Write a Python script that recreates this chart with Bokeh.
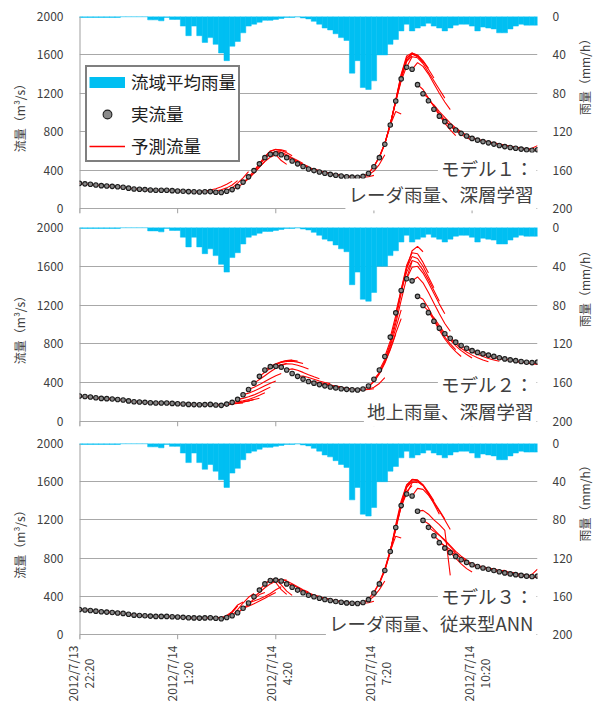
import numpy as np
import pandas as pd
from bokeh.plotting import figure
from bokeh.layouts import column
from bokeh.models import (Range1d, LinearAxis, FixedTicker, Label, Legend,
                          LegendItem, ColumnDataSource)
from bokeh.core.properties import value
from bokeh.embed import file_html
from bokeh.resources import INLINE

FONT = "Noto Sans CJK JP"
TEXT = "#404040"
RAIN_COLOR = "#00BFF2"
FORECAST_COLOR = "#FF0000"
GRID_COLOR = "#A8A8A8"
AXIS_COLOR = "#A0A0A0"

# 10-minute time steps, 2012/7/13 22:20 - 2012/7/14 12:20
time_index = pd.date_range("2012-07-13 22:20", "2012-07-14 12:20", freq="10min")
t_ms = (time_index.asi8 // 10**6).astype(float)
STEP = 600000.0

# observed discharge (m3/s)
observed_flow = [
    262, 257, 252, 245, 238, 235, 231, 226, 221, 212,
    203, 200, 197, 193, 190, 190, 190, 186, 183, 180,
    176, 174, 172, 174, 176, 170, 166, 179, 197, 228,
    275, 330, 395, 465, 530, 565, 570, 560, 530, 495,
    465, 437, 412, 395, 380, 367, 356, 346, 338, 331,
    327, 325, 335, 365, 435, 530, 670, 870, 1120, 1350,
    1472, 1450, 1290, 1195, 1122, 1034, 962, 905, 858, 818,
    783, 755, 730, 712, 697, 684, 671, 657, 645, 635,
    627, 619, 611, 607, 612,
]

# basin-average rainfall (mm/h)
rainfall = [
    1, 1, 1, 1, 1, 1, 1, 1, 0.3, 0.3,
    0.3, 0.3, 0.3, 3.5, 3.5, 4.5, 1, 3, 3, 10,
    20, 10, 20, 27, 22, 29, 38, 46, 31, 26,
    17, 10, 8, 6, 4, 4, 3, 2, 1, 1,
    0.5, 1.5, 2.5, 5, 8, 12, 14, 18, 22, 25,
    59, 46, 74, 76, 67, 40, 40, 29, 24, 15,
    8, 15, 12, 10, 7, 10, 12, 15, 12, 9,
    8, 8, 10, 15, 11, 12, 13, 17, 17, 13,
    10, 8, 9, 9, 9,
]

tick_times = ["2012-07-13 22:20", "2012-07-14 01:20", "2012-07-14 04:20",
              "2012-07-14 07:20", "2012-07-14 10:20"]
tick_dates = ["2012/7/13", "2012/7/14", "2012/7/14", "2012/7/14", "2012/7/14"]
tick_clock = ["22:20", "1:20", "4:20", "7:20", "10:20"]
flow_ticks = [0, 400, 800, 1200, 1600, 2000]
rain_ticks = [0, 40, 80, 120, 160, 200]

# forecast runs: (issue step, predicted discharge from that step onward)
forecast_model1 = [
    (0, [262, 256, 250, 244, 239, 234, 230]),
    (5, [235, 231, 226, 220, 213, 206, 201]),
    (10, [203, 200, 197, 194, 191, 189, 188]),
    (15, [190, 189, 188, 185, 182, 179, 176]),
    (19, [180, 177, 175, 173, 173, 175, 178]),
    (21, [174, 176, 182, 192, 206, 226, 252, 285]),
    (24, [176, 182, 195, 215, 245, 290]),
    (27, [179, 215, 265, 320, 385]),
    (28, [197, 222, 262, 310, 368, 430, 490]),
    (30, [275, 318, 372, 432, 490, 535, 560]),
    (31, [330, 388, 455, 520, 570, 595, 600]),
    (32, [395, 468, 540, 595, 615, 612, 595]),
    (33, [465, 540, 600, 618, 605, 580, 550]),
    (34, [530, 580, 560, 500, 460]),
    (35, [565, 590, 585, 560, 530, 500, 470]),
    (36, [570, 570, 550, 520, 490, 462, 438]),
    (38, [530, 505, 478, 452, 428, 410, 396]),
    (40, [465, 445, 424, 406, 390, 378, 368]),
    (42, [412, 398, 385, 373, 362, 353, 346]),
    (44, [380, 370, 360, 351, 343, 337, 332]),
    (46, [356, 348, 341, 335, 331, 328, 327]),
    (48, [338, 332, 328, 326, 326, 331, 345]),
    (50, [327, 325, 330, 350, 390, 460, 560]),
    (52, [335, 368, 440, 540, 680, 880, 1110]),
    (53, [365, 438, 540, 680, 880, 1120, 1340]),
    (54, [435, 535, 675, 875, 1110, 1330, 1480]),
    (55, [530, 672, 870, 1120, 1360, 1530, 1590]),
    (56, [670, 880, 1130, 1390, 1570, 1610, 1580]),
    (57, [870, 1010, 985]),
    (57, [870, 1130, 1400, 1590, 1620, 1590, 1520]),
    (58, [1120, 1370, 1560, 1620, 1600, 1540, 1460]),
    (59, [1350, 1540, 1610, 1590, 1530, 1450, 1360]),
    (60, [1472, 1580, 1570, 1510, 1420, 1330, 1240, 1150]),
    (61, [1450, 1520, 1480, 1400, 1300, 1200, 1110, 1030]),
    (62, [1290, 1240, 1150, 1060, 970, 890, 820, 760]),
    (63, [1195, 1150, 1070, 990, 920, 860, 810]),
    (64, [1122, 1080, 1010, 950, 890, 840, 800]),
    (66, [962, 915, 860, 810, 770, 738, 712]),
    (67, [905, 870, 830, 795, 765, 740, 720]),
    (69, [818, 790, 762, 740, 722, 706, 694]),
    (72, [730, 716, 704, 694, 684, 672, 660]),
    (75, [684, 676, 668, 656, 646, 636, 628]),
    (77, [657, 660, 648, 638, 630, 622, 615]),
    (79, [635, 630, 624, 616, 610, 606]),
    (80, [627, 620, 612, 628, 655]),
]

forecast_model2 = [
    (0, [262, 255, 249, 243, 238, 233, 229]),
    (5, [235, 231, 225, 218, 211, 205, 200]),
    (10, [203, 199, 196, 193, 190, 189, 187]),
    (15, [190, 188, 186, 183, 180, 177, 174]),
    (20, [176, 174, 172, 173, 174, 171, 168]),
    (24, [176, 172, 168, 172, 180, 186, 192]),
    (26, [166, 172, 180, 190, 200, 212, 226]),
    (27, [179, 183, 190, 200, 212, 226, 240]),
    (28, [197, 202, 212, 226, 246, 270, 296]),
    (29, [228, 238, 254, 274, 298, 326, 354]),
    (30, [275, 292, 314, 340, 368, 394, 418]),
    (31, [330, 352, 380, 412, 444, 472, 494]),
    (32, [395, 432, 472, 512, 548, 578, 600]),
    (33, [465, 508, 548, 584, 612, 628, 632]),
    (34, [530, 566, 596, 616, 628, 630, 622]),
    (35, [565, 590, 608, 618, 620, 612, 598]),
    (36, [570, 586, 594, 592, 580, 562, 542]),
    (38, [530, 542, 528, 506, 482, 460, 440]),
    (40, [465, 468, 454, 436, 418, 402, 390]),
    (42, [412, 410, 400, 388, 376, 366, 358]),
    (44, [380, 377, 369, 359, 350, 343, 338]),
    (46, [356, 351, 344, 338, 333, 330, 329]),
    (48, [338, 333, 329, 327, 327, 330, 338]),
    (50, [327, 325, 326, 333, 352, 392, 452]),
    (52, [335, 356, 410, 490, 600, 740, 900]),
    (53, [365, 415, 500, 620, 780, 960, 1150]),
    (54, [435, 505, 610, 750, 910, 1060]),
    (55, [530, 640, 800, 1010, 1250, 1480, 1650]),
    (56, [670, 830, 1050, 1320, 1580, 1760, 1805, 1750]),
    (57, [870, 1090, 1360, 1610, 1740, 1730, 1640, 1530]),
    (58, [1120, 1360, 1580, 1700, 1680, 1600, 1490, 1380]),
    (59, [1350, 1540, 1660, 1640, 1560, 1460, 1350, 1240]),
    (60, [1472, 1590, 1600, 1530, 1430, 1320, 1210, 1110]),
    (61, [1450, 1490, 1430, 1330, 1220, 1110, 1010, 930]),
    (62, [1290, 1260, 1170, 1060, 960, 870, 800, 740]),
    (63, [1195, 1140, 1040, 940, 850, 780, 720, 670]),
    (64, [1122, 1070, 990, 910, 840, 780, 730, 690, 655]),
    (66, [962, 910, 852, 800, 755, 716, 684, 656, 634, 616]),
    (68, [858, 820, 782, 748, 718, 692, 670, 650, 634, 620]),
    (71, [755, 735, 712, 692, 674, 660, 648, 636]),
    (74, [697, 684, 670, 656, 644, 632, 622, 612]),
    (77, [657, 645, 634, 622, 612, 603, 596, 590]),
    (80, [627, 616, 606, 598, 592]),
]

forecast_model3 = [
    (0, [262, 257, 250, 246, 238, 236, 230]),
    (5, [235, 230, 227, 220, 214, 204, 202]),
    (10, [203, 201, 196, 194, 189, 191, 188]),
    (15, [190, 190, 186, 184, 179, 177, 172]),
    (19, [180, 175, 174, 170, 176, 172, 178]),
    (22, [172, 178, 172, 180, 174, 170]),
    (25, [170, 175, 200, 240, 300]),
    (26, [166, 190, 240, 310, 340]),
    (27, [179, 230, 300]),
    (28, [197, 260, 330, 390, 430]),
    (29, [228, 270, 320, 372, 418, 440]),
    (30, [275, 296, 322, 350, 380, 412, 440]),
    (31, [330, 350, 372, 398, 430, 468, 500]),
    (32, [395, 440, 490, 530, 560, 572, 570]),
    (33, [465, 530, 575, 580, 560, 530]),
    (34, [530, 570, 545, 470, 420]),
    (35, [565, 575, 520, 455, 410]),
    (36, [570, 578, 560, 532, 500, 470, 445]),
    (38, [530, 520, 492, 462, 436, 414, 398]),
    (40, [465, 452, 430, 410, 394, 380, 370]),
    (42, [412, 402, 390, 376, 364, 354, 346]),
    (44, [380, 374, 362, 352, 344, 337, 333]),
    (46, [356, 348, 342, 336, 330, 328, 327]),
    (48, [338, 333, 328, 326, 327, 332, 348]),
    (50, [327, 326, 332, 356, 400, 470, 560]),
    (52, [335, 370, 445, 545, 690, 880, 1100]),
    (54, [435, 540, 680, 880, 1120, 1340, 1480]),
    (55, [530, 670, 860, 1100, 1340, 1500, 1560]),
    (56, [670, 870, 1120, 1360, 1540, 1600, 1590]),
    (57, [870, 1030, 1010]),
    (57, [870, 1150, 1400, 1570, 1620, 1610, 1560]),
    (58, [1120, 1380, 1560, 1625, 1620, 1570, 1490, 1400]),
    (59, [1350, 1540, 1620, 1615, 1560, 1470, 1370, 1260]),
    (60, [1472, 1590, 1600, 1560, 1480, 1390, 1300, 1210]),
    (61, [1450, 1530, 1520, 1460, 1380, 1290, 1200, 1100]),
    (62, [1290, 1300, 1260, 1200, 1150, 1090, 620]),
    (63, [1195, 1160, 1100, 1040, 980, 920, 860]),
    (64, [1122, 1080, 1040, 990, 930, 870, 820, 780]),
    (65, [1034, 980, 920, 860, 800, 740, 690, 655]),
    (66, [962, 930, 890, 850, 800, 760, 720]),
    (68, [858, 840, 800, 770, 740, 716, 700]),
    (70, [783, 758, 742, 716, 712, 690, 690]),
    (72, [730, 702, 712, 684, 692, 666, 672]),
    (74, [697, 676, 686, 660, 668, 646, 650]),
    (76, [671, 650, 664, 636, 644, 622, 628]),
    (78, [645, 624, 638, 612, 620, 598, 606]),
    (80, [627, 604, 616, 592, 604]),
    (81, [619, 600, 630, 685]),
]

panels = [
    ("モデル１：", "レーダ雨量、深層学習", forecast_model1),
    ("モデル２：", "地上雨量、深層学習", forecast_model2),
    ("モデル３：", "レーダ雨量、従来型ANN", forecast_model3),
]

tick_ms = [float(pd.Timestamp(t).value // 10**6) for t in tick_times]

FLOW_MAX = 2000
TICK_DEPTH = 52          # outward length of the time tick marks, in flow units
RAIN_MAX = 200
LEFT_PAD, RIGHT_PAD = 79, 63
PX_PER_STEP = (604 - LEFT_PAD - RIGHT_PAD) / (len(t_ms) - 1)


def unaligned(plot):
    # keep each figure's frame where its own borders put it
    if "frame_align" in plot.properties():
        plot.frame_align = False
    return plot


def build_panel(caption1, caption2, forecast, height, border_top, border_bottom,
                caption_y, show_legend):
    p = figure(width=604, height=height, x_axis_type="datetime",
               x_range=Range1d(t_ms[0], t_ms[-1]),
               y_range=Range1d(-TICK_DEPTH, FLOW_MAX),
               x_axis_location=None,
               output_backend="svg", toolbar_location=None,
               min_border_left=LEFT_PAD, min_border_right=RIGHT_PAD,
               min_border_top=border_top, min_border_bottom=border_bottom,
               outline_line_color=None)
    unaligned(p)
    # rainfall axis runs downward from the top; its 200 sits on the flow zero line
    p.extra_y_ranges = {"rain": Range1d(RAIN_MAX + TICK_DEPTH * RAIN_MAX / FLOW_MAX, 0)}

    # rainfall bars hanging from the top
    rain_src = ColumnDataSource(dict(left=t_ms - STEP / 2, right=t_ms + STEP / 2,
                                     top=[0] * len(rainfall), bottom=rainfall))
    p.quad(left="left", right="right", top="top", bottom="bottom", source=rain_src,
           y_range_name="rain", fill_color=RAIN_COLOR, line_color=RAIN_COLOR,
           line_width=0.5)

    # vertical axis line and the time tick marks below the zero line
    p.segment(x0=[t_ms[0]], y0=[-TICK_DEPTH], x1=[t_ms[0]], y1=[FLOW_MAX],
              line_color=AXIS_COLOR, line_width=2)
    p.segment(x0=tick_ms, y0=[0] * len(tick_ms), x1=tick_ms,
              y1=[-TICK_DEPTH] * len(tick_ms), line_color=AXIS_COLOR, line_width=1)

    xs, ys = [], []
    for start, vals in forecast:
        vals = vals[: len(t_ms) - start]
        xs.append(list(t_ms[start:start + len(vals)]))
        ys.append(vals)
    p.multi_line(xs=xs, ys=ys, line_color=FORECAST_COLOR, line_width=1.1)

    obs = p.scatter(x=t_ms, y=observed_flow, marker="circle", size=4.5,
                    line_color="#1E1E1E", line_width=1.1, fill_color="#8A8A8A")

    # grid
    p.xgrid.grid_line_color = None
    p.ygrid.ticker = FixedTicker(ticks=flow_ticks)
    p.ygrid.grid_line_color = GRID_COLOR

    # left (discharge) axis
    yax = p.yaxis[0]
    yax.ticker = FixedTicker(ticks=flow_ticks)
    yax.axis_label = "流量（m³/s）"
    yax.axis_line_color = None
    yax.major_label_standoff = 16
    yax.axis_label_standoff = 6

    # right (rainfall) axis, title reading bottom to top
    rax = LinearAxis(y_range_name="rain", ticker=FixedTicker(ticks=rain_ticks),
                     axis_label="雨量（mm/h）")
    rax.axis_line_color = None
    rax.major_label_standoff = 15
    rax.axis_label_standoff = 9
    if "axis_label_orientation" in rax.properties():
        rax.axis_label_orientation = np.pi / 2
    p.add_layout(rax, "right")

    for ax in (yax, rax):
        ax.major_tick_out = 0
        ax.major_tick_in = 0
        ax.minor_tick_out = 0
        ax.minor_tick_in = 0
        ax.major_label_text_font = FONT
        ax.major_label_text_font_size = "12px"
        ax.major_label_text_color = TEXT
        ax.axis_label_text_font = FONT
        ax.axis_label_text_font_size = "12px"
        ax.axis_label_text_font_style = "normal"
        ax.axis_label_text_color = TEXT

    # model caption in the lower right corner
    cap_x = t_ms[0] + 83.8 * STEP
    for txt, yv in zip((caption1, caption2), caption_y):
        p.add_layout(Label(x=cap_x, y=yv, text=txt, text_align="right",
                           text_baseline="middle", text_font=FONT,
                           text_font_size="18.5px", text_color=TEXT,
                           background_fill_color="white", padding=3))

    if show_legend:
        # legend keys: a thick cyan stroke for the rainfall bars, a red stroke
        # for the forecasts (both kept outside the visible range)
        off = dict(x=[t_ms[0], t_ms[1]], y=[-5000, -5000])
        rain_key = p.line(line_color=RAIN_COLOR, line_width=11, **off)
        fc_key = p.line(line_color=FORECAST_COLOR, line_width=1.5, **off)
        legend = Legend(items=[
            LegendItem(label="流域平均雨量", renderers=[rain_key]),
            LegendItem(label="実流量", renderers=[obs]),
            LegendItem(label="予測流量", renderers=[fc_key]),
        ], location=(6, 51))
        legend.label_text_font = FONT
        legend.label_text_font_size = "17.5px"
        legend.label_text_color = "#202020"
        legend.glyph_width = 36
        legend.glyph_height = 22
        legend.label_height = 22
        legend.label_standoff = 6
        legend.spacing = 7
        legend.padding = 2
        legend.margin = 0
        legend.border_line_color = "black"
        legend.border_line_width = 2
        legend.background_fill_alpha = 1
        p.add_layout(legend)
    return p


def build_time_labels(height, center_from_top):
    # strip under the bottom panel holding the rotated two-line time labels;
    # its x scale lines up with the panels above
    x0 = t_ms[0] - LEFT_PAD / PX_PER_STEP * STEP
    x1 = t_ms[-1] + RIGHT_PAD / PX_PER_STEP * STEP
    q = figure(width=604, height=height, x_range=Range1d(x0, x1),
               y_range=Range1d(0, height), x_axis_location=None,
               y_axis_location=None, output_backend="svg", toolbar_location=None,
               min_border=0, min_border_left=0, min_border_right=0,
               min_border_top=0, min_border_bottom=0, outline_line_color=None)
    unaligned(q)
    q.xgrid.visible = False
    q.ygrid.visible = False
    src = ColumnDataSource(dict(x=tick_ms, date=tick_dates, clock=tick_clock))
    for col, dx in (("date", -7), ("clock", 9)):
        q.text(x="x", y=height - center_from_top, text=col, source=src,
               angle=np.pi / 2, x_offset=dx, text_align="center",
               text_baseline="middle", text_font=value(FONT),
               text_font_size="12px", text_color=TEXT)
    return q


p1 = build_panel(*panels[0], height=217, border_top=16, border_bottom=4,
                 caption_y=(417, 146), show_legend=True)
p2 = build_panel(*panels[1], height=213, border_top=10, border_bottom=4,
                 caption_y=(388, 106), show_legend=False)
p3 = build_panel(*panels[2], height=212, border_top=13, border_bottom=3,
                 caption_y=(401, 118), show_legend=False)
labels = build_time_labels(62, 31)

layout = column(p1, p2, p3, labels, spacing=0)
open("out.html", "w").write(file_html(layout, INLINE))
